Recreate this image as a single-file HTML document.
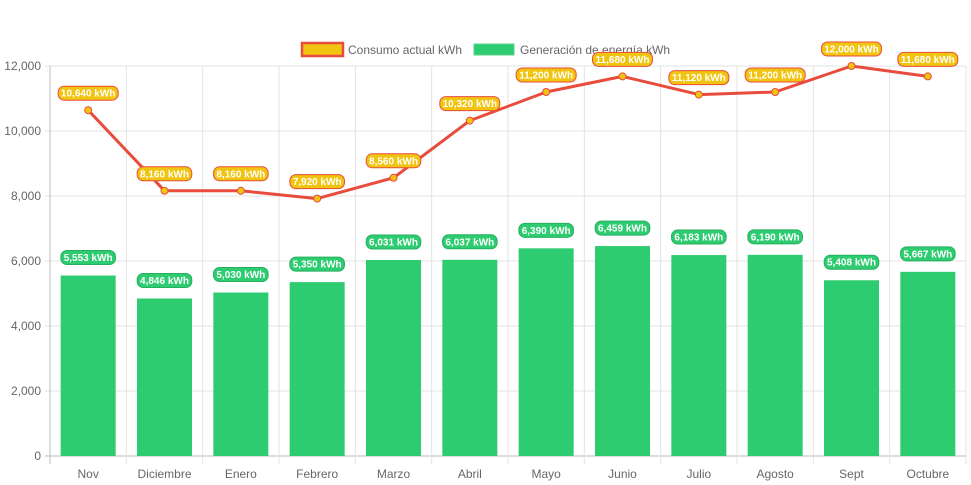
<!DOCTYPE html>
<html><head><meta charset="utf-8"><style>
body{margin:0;background:#fff;}
svg{display:block;font-family:"Liberation Sans",sans-serif;}
</style></head><body>
<svg id="chart" width="971" height="485" xmlns="http://www.w3.org/2000/svg">
<g id="legend">
  <g>
    <rect x="302" y="43" width="41" height="13" fill="#f1c40f" stroke="#e74c3c" stroke-width="2.5"/>
    <text x="348" y="54" font-size="12" fill="#666">Consumo actual kWh</text>
  </g>
  <g>
    <rect x="474" y="44" width="40" height="11" fill="#2ecc71" stroke="#58d68d" stroke-width="1"/>
    <text x="520" y="54" font-size="12" fill="#666">Generación de energía kWh</text>
  </g>
</g>
<g id="grid"></g><g id="bars"></g><g id="line"></g><g id="labels"></g>
</svg>
<script>
const categories=["Nov","Diciembre","Enero","Febrero","Marzo","Abril","Mayo","Junio","Julio","Agosto","Sept","Octubre"];
const consumo=[10640,8160,8160,7920,8560,10320,11200,11680,11120,11200,12000,11680];
const generacion=[5553,4846,5030,5350,6031,6037,6390,6459,6183,6190,5408,5667];
const yTicks=[0,2000,4000,6000,8000,10000,12000];
const NS="http://www.w3.org/2000/svg";
const L=50,R=966,T=66,B=456,yMax=12000;
const bw=(R-L)/categories.length;
const y=v=>B-(v/yMax)*(B-T);
const xc=i=>L+bw*(i+0.5);
function mk(tag,attrs,parent,text){const e=document.createElementNS(NS,tag);for(const k in attrs)e.setAttribute(k,attrs[k]);if(text!==undefined)e.textContent=text;document.getElementById(parent).appendChild(e);return e;}
const fmt=v=>v.toLocaleString("en-US");
yTicks.forEach(t=>{
  const g=mk("line",{x1:L-5,x2:R,y1:y(t),y2:y(t),stroke:t===0?"#bbb":"#e3e3e3","stroke-width":1},"grid");
  
  
  const tx=mk("text",{x:L-9,y:y(t)+4,"text-anchor":"end","font-size":12,fill:"#666"},"grid",fmt(t));
  
  
});
for(let i=0;i<=categories.length;i++){
  const g=mk("line",{x1:L+bw*i,x2:L+bw*i,y1:T,y2:B+8,stroke:i===0?"#bbb":"#e3e3e3","stroke-width":1},"grid");
  
  
}
categories.forEach((c,i)=>{
  const tx=mk("text",{x:xc(i),y:478,"text-anchor":"middle","font-size":12,fill:"#666"},"grid",c);
  
  
});
function pill(cx,cy,text,fill,stroke){
  const w=text.length*5.4+6;
  const r=mk("rect",{x:cx-w/2,y:cy-7,width:w,height:14,rx:6,fill:fill,stroke:stroke,"stroke-width":1},"labels");
  
  
  const t=mk("text",{x:cx,y:cy+3.5,"text-anchor":"middle","font-size":10,"font-weight":"bold",fill:"#fff"},"labels",text);
  
  
}
generacion.forEach((v,i)=>{
  const bwid=55;
  const b=mk("rect",{x:xc(i)-bwid/2,y:y(v),width:bwid,height:B-y(v),fill:"#2ecc71"},"bars");
  
  
  pill(xc(i),y(v)-18,fmt(v)+" kWh","#2ecc71","#27ae60");
});
const pts=consumo.map((v,i)=>xc(i)+","+y(v)).join(" ");
const pl=mk("polyline",{points:pts,fill:"none",stroke:"#e74c3c","stroke-width":3,"stroke-linejoin":"round"},"line");


consumo.forEach((v,i)=>{
  const c=mk("circle",{cx:xc(i),cy:y(v),r:3.5,fill:"#f1c40f",stroke:"#e74c3c","stroke-width":1},"line");
  
  
  pill(xc(i),y(v)-17,fmt(v)+" kWh","#f1c40f","#e74c3c");
});
</script>
</body></html>
